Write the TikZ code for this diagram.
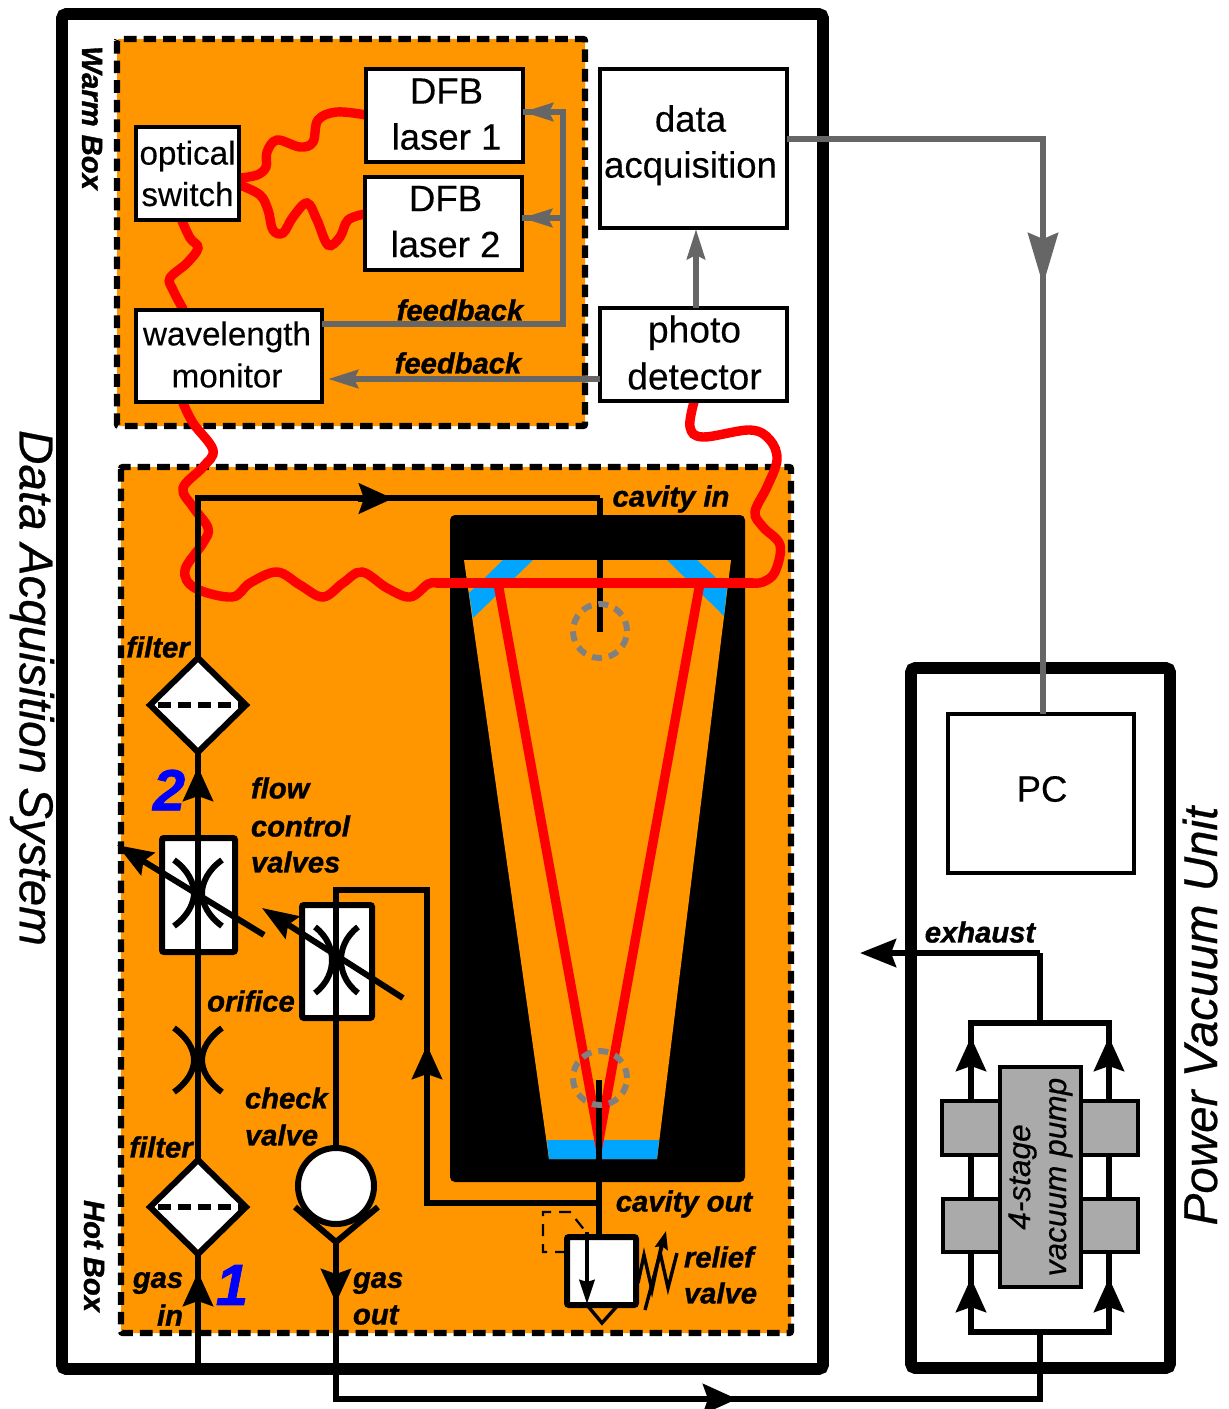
\documentclass[tikz,border=0pt]{standalone}
\usepackage{fontspec}
\setmainfont{Liberation Sans}[FakeBold=0.25,ItalicFeatures={FakeBold=0.5},BoldItalicFeatures={FakeBold=1.2}]
\usetikzlibrary{arrows.meta,shapes.geometric,calc}
\definecolor{boxorange}{RGB}{255,150,0}
\definecolor{mirrorblue}{RGB}{0,165,255}
\definecolor{feedgray}{RGB}{102,102,102}
\definecolor{pumpgray}{RGB}{170,170,170}
\definecolor{ringgray}{RGB}{128,128,128}
\newcommand\nudge[3]{\hbox to 0pt{\hss\kern#1\raisebox{\dimexpr#2-.25em-6pt\relax}{\smash{\begin{tabular}{@{}c@{}}#3\end{tabular}}}\kern-#1\hss}}
\tikzset{
  x=.5pt,y=-.5pt,
  wh/.style 2 args={minimum width=#1*.5pt,minimum height=#2*.5pt},
  plain/.style={inner sep=0pt,outer sep=0pt},
  frame/.style={draw=black,line width=5.8pt,rounded corners=2pt},
  warmzone/.style={fill=boxorange,draw=black,line width=3.2pt,dash pattern=on 6.3pt off 3.5pt,rounded corners=1pt},
  blockbig/.style={plain,rectangle,draw=black,fill=white,line width=1.7pt,font=\fontsize{18.3}{23}\selectfont},
  blocksmall/.style={plain,rectangle,draw=black,fill=white,line width=1.7pt,font=\fontsize{16.6}{20.7}\selectfont},
  valvebox/.style={plain,rectangle,draw=black,fill=white,line width=3pt,rounded corners=1pt},
  pumpblock/.style={plain,rectangle,draw=black,fill=pumpgray,line width=1.7pt},
  pipe/.style={draw=black,line width=3pt},
  thinpipe/.style={draw=black,line width=1.7pt},
  fiber/.style={draw=red,line width=4.7pt,line cap=round},
  gline/.style={draw=feedgray,line width=3pt},
  bigtip/.style={pipe,-{Stealth[length=17pt,width=15pt,inset=2.5pt]}},
  smalltip/.style={thinpipe,-{Stealth[length=9pt,width=6.5pt,inset=1.2pt]}},
  valvetip/.style={pipe,-{Stealth[length=18pt,width=13pt,inset=2.5pt]}},
  ftip/.style={gline,-{Stealth[length=15pt,width=9pt,inset=2pt]}},
  pctip/.style={gline,-{Stealth[length=26pt,width=15pt,inset=3pt]}},
  ring/.style={draw=ringgray,line width=3pt,dash pattern=on 5pt off 3.5pt},
  lab/.style={plain,font=\fontsize{14.6}{18}\selectfont\bfseries\itshape},
  bignum/.style={plain,text=blue,font=\fontsize{29}{30}\selectfont\bfseries\itshape},
  title/.style={plain,font=\fontsize{23.8}{28}\selectfont\itshape},
  filterd/.style={plain,diamond,aspect=1,draw=black,fill=white,line width=3pt,wh={96}{94}},
}
\begin{document}
\begin{tikzpicture}
\useasboundingbox[fill=white] (0,0) rectangle (1228,1409);
% frames
\draw[frame] (62,14) rectangle (823,1369);
\draw[frame] (911,668) rectangle (1170,1368);
\draw[warmzone] (117,39) rectangle (585,426);
\draw[warmzone] (121,467) rectangle (791,1333);
% cavity
\node[plain,rectangle,fill=black,rounded corners=2.5pt,wh={295}{667}] (cavity) at (597.5,848.5) {};
\fill[boxorange] (464,560) -- (731,560) -- (657,1159) -- (549,1159) -- cycle;
\fill[mirrorblue] (503,560) -- (533,560) -- (473,618) -- (469,593) -- cycle;
\fill[mirrorblue] (667,560) -- (697,560) -- (727,588) -- (724,616) -- cycle;
\fill[mirrorblue] (547,1140) -- (659,1140) -- (657,1159) -- (549,1159) -- cycle;
% named points
\coordinate (swS) at (182,221);
\coordinate (wmN) at (183,309);
\coordinate (wmS) at (183,403);
\coordinate (swE1) at (240,178);
\coordinate (swE2) at (240,185);
\coordinate (d1W) at (366,115);
\coordinate (d2W) at (365,214);
\coordinate (f1) at (437,583);
\coordinate (f2) at (752,583);
\coordinate (phS) at (694,402);
% fibres in the warm box
\draw[fiber] plot[smooth,tension=.6] coordinates {(swS) (190,238) (198,248) (187,263) (170,278) (173,290) (wmN)};
\draw[fiber] plot[smooth,tension=.6] coordinates {(swE1) (257,175) (266,167) (267,152) (277,140) (300,147) (313,142) (318,120) (337,112) (d1W)};
\draw[fiber] plot[smooth,tension=.6] coordinates {(swE2) (260,195) (268,210) (273,230) (283,233) (293,217) (307,203) (317,220) (328,245) (340,237) (348,220) (d2W)};
% cavity-in stub lies under the beam
\coordinate (ciT) at (600,498);
\coordinate (ciB) at (600,632);
\draw[pipe] (ciT) -- (ciB);
% beams and long fibre
\coordinate (bL) at (498,583);
\coordinate (bR) at (700,583);
\coordinate (bB) at (599,1140);
\draw[fiber,line join=miter,line cap=butt] (bL) -- (bB) -- (bR);
\draw[fiber] plot[smooth,tension=.6] coordinates {(wmS) (193,423) (213,450) (203,467) (183,488) (193,507) (208,528) (203,543) (185,570) (195,588) (232,597) (250,583) (277,572) (300,585) (323,597) (343,583) (362,572) (387,588) (410,597) (428,584) (f1)};
\draw[fiber] (f1) -- (f2);
\draw[fiber] plot[smooth,tension=.6] coordinates {(f2) (763,582) (775,572) (780,545) (763,527) (755,512) (767,487) (777,460) (770,440) (750,430) (703,437) (690,427) (phS)};
% nodes
\node[blocksmall,wh={103}{93}] (switch) at (187.5,173.5) {\nudge{0pt}{-2pt}{optical\\switch}};
\node[blockbig,wh={157}{93}] (dfb1) at (444.5,115.5) {\nudge{1pt}{0pt}{DFB\\laser 1}};
\node[blockbig,wh={157}{93}] (dfb2) at (443.5,223.5) {\nudge{1pt}{0.5pt}{DFB\\laser 2}};
\node[blocksmall,font=\fontsize{16.6}{21}\selectfont,wh={186}{92}] (wm) at (229,356) {\nudge{-1pt}{-0.5pt}{wavelength\\monitor}};
\node[blockbig,wh={187}{159}] (daq) at (693.5,148.5) {\nudge{-1.5pt}{5pt}{data\\acquisition}};
\node[blockbig,font=\fontsize{18.6}{23.5}\selectfont,wh={187}{93}] (photo) at (693.5,354.5) {\nudge{0.5pt}{0pt}{photo\\detector}};
\node[blockbig,wh={186}{159}] (pc) at (1041,793.5) {\nudge{0.5pt}{3pt}{PC}};
% gray signal lines
\coordinate (fbCorner) at (563,324);
\coordinate (fbTop) at (563,112);
\coordinate (fbMid) at (563,218);
\draw[gline] (wm.east |- fbCorner) -- (fbCorner) -- (fbTop) -- (dfb1.east |- fbTop);
\draw[gline] (fbMid) -- (dfb2.east |- fbMid);
\coordinate (a1b) at (555,112);
\coordinate (a1t) at (523,112);
\coordinate (a2b) at (555,218);
\coordinate (a2t) at (522,218);
\draw[ftip] (a1b) -- (a1t);
\draw[ftip] (a2b) -- (a2t);
\coordinate (pfb) at (600,379);
\coordinate (pft) at (328,379);
\draw[ftip] (pfb) -- (pft);
\coordinate (daqS) at (696,229);
\coordinate (phN) at (696,308);
\draw[ftip] (phN) -- (daqS);
\coordinate (daqE) at (787,139);
\coordinate (pcC) at (1043,139);
\coordinate (pcN) at (1043,714);
\draw[gline] (daqE) -- (pcC) -- (pcN);
\coordinate (pcAb) at (1043,232);
\coordinate (pcAt) at (1043,285);
\draw[pctip] (pcAb) -- (pcAt);
% gas line 1
\coordinate (gasstart) at (198,1368);
\coordinate (gc1) at (198,498);
\node[filterd] (filterA) at (198,1207) {};
\node[filterd] (filterB) at (198,705) {};
\draw[pipe] (gasstart) -- (filterA.south);
\draw[pipe] (filterA.north) -- (filterB.south);
\draw[pipe] (filterB.north) -- (gc1) -- (ciT);
\draw[pipe,dash pattern=on 6.5pt off 3.5pt] (filterA.west) ++(8,0) -- (filterA.east);
\draw[pipe,dash pattern=on 6.5pt off 3.5pt] (filterB.west) ++(8,0) -- (filterB.east);
\coordinate (a3b) at (358,498.5);
\coordinate (a3t) at (393,498.5);
\draw[bigtip] (a3b) -- (a3t);
\coordinate (a4b) at (198,803);
\coordinate (a4t) at (198,767);
\draw[bigtip] (a4b) -- (a4t);
\coordinate (a5b) at (198,1306);
\coordinate (a5t) at (198,1272);
\draw[bigtip] (a5b) -- (a5t);
% valve 1
\node[valvebox,wh={73}{114}] (valveA) at (198.5,895) {};
\coordinate (vAs) at (198,952);
\coordinate (vAn) at (198,838);
\draw[pipe] (vAs) -- (vAn);
\draw[pipe] (174,860) .. controls (188,870) and (194,883) .. (194,893) .. controls (194,903) and (188,916) .. (174,926);
\draw[pipe] (222,860) .. controls (208,870) and (202,883) .. (202,893) .. controls (202,903) and (208,916) .. (222,926);
\coordinate (vAarrB) at (264,935);
\coordinate (vAarrT) at (117,845);
\draw[valvetip] (vAarrB) -- (vAarrT);
% orifice
\draw[pipe] (174,1028) .. controls (188,1038) and (194,1050) .. (194,1060) .. controls (194,1070) and (188,1082) .. (174,1092);
\draw[pipe] (222,1028) .. controls (208,1038) and (202,1050) .. (202,1060) .. controls (202,1070) and (208,1082) .. (222,1092);
% valve 2 and check valve
\node[valvebox,wh={70}{113}] (valveB) at (337,961.5) {};
\node[plain,circle,draw=black,fill=white,line width=3pt,wh={76}{76}] (check) at (336,1186) {};
\coordinate (cvTip) at (336,1242);
\coordinate (cvL) at (295,1207);
\coordinate (cvR) at (378,1207);
\draw[draw=black,line width=3pt] (cvL) -- (cvTip) -- (cvR);
\coordinate (p2T) at (336,890);
\coordinate (p2C) at (427,890);
\coordinate (p2D) at (427,1203);
\coordinate (p2J) at (599,1203);
\draw[pipe] (check.north) -- (p2T) -- (p2C) -- (p2D) -- (p2J);
\draw[pipe] (315,927) .. controls (328,937) and (332,950) .. (332,960) .. controls (332,970) and (328,983) .. (315,993);
\draw[pipe] (358,927) .. controls (345,937) and (341,950) .. (341,960) .. controls (341,970) and (345,983) .. (358,993);
\coordinate (vBarrB) at (403,998);
\coordinate (vBarrT) at (262,908);
\draw[valvetip] (vBarrB) -- (vBarrT);
\coordinate (a6b) at (427,1081);
\coordinate (a6t) at (427,1045);
\draw[bigtip] (a6b) -- (a6t);
% outlet
\coordinate (gasB) at (336,1399);
\coordinate (gasE) at (1040,1399);
\coordinate (pumpBot) at (1040,1332);
\draw[pipe] (cvTip) -- (gasB) -- (gasE) -- (pumpBot);
\coordinate (a7b) at (336,1271);
\coordinate (a7t) at (336,1303);
\draw[bigtip] (a7b) -- (a7t);
\coordinate (a8b) at (700,1399);
\coordinate (a8t) at (737,1399);
\draw[bigtip] (a8b) -- (a8t);
% relief valve
\coordinate (cavOutT) at (599,1080);
\coordinate (cavOutB) at (599,1237);
\draw[pipe] (cavOutT) -- (cavOutB);
\node[valvebox,line width=3pt,wh={69}{68}] (relief) at (601.5,1271) {};
\coordinate (rA) at (587,1232);
\coordinate (rB) at (587,1304);
\draw[thinpipe,line width=2.2pt,-{Stealth[length=12pt,width=7.5pt,inset=1pt]}] (rA) -- (rB);
\coordinate (rTl) at (587,1305);
\coordinate (rTm) at (602,1323);
\coordinate (rTr) at (618,1305);
\draw[thinpipe] (rTl) -- (rTm) -- (rTr);
\coordinate (rDa) at (567,1252);
\coordinate (rDb) at (543,1252);
\coordinate (rDc) at (543,1212);
\coordinate (rDd) at (570,1212);
\coordinate (rDe) at (590,1237);
\draw[draw=black,line width=1.1pt,dash pattern=on 6pt off 4pt] (rDa) -- (rDb) -- (rDc) -- (rDd) -- (rDe);
\draw[thinpipe] (638,1283) -- (644,1255) -- (652,1290) -- (660,1252) -- (668,1288) -- (677,1253);
\coordinate (sA) at (645,1310);
\coordinate (sB) at (666,1231);
\draw[smalltip] (sA) -- (sB);
% rings
\node[plain,circle,ring,wh={54}{54}] (ringA) at (600,631) {};
\node[plain,circle,ring,wh={54}{54}] (ringB) at (600,1078) {};
% pump
\coordinate (plT) at (971,1023);
\coordinate (prT) at (1109,1023);
\coordinate (plB) at (971,1332);
\coordinate (prB) at (1109,1332);
\coordinate (exJ) at (1040,1023);
\coordinate (exC) at (1040,953);
\coordinate (exT) at (860,953);
\draw[pipe] (plB) -- (prB) -- (prT) -- (plT) -- cycle;
\draw[pipe] (exJ) -- (exC);
\draw[pipe,-{Stealth[length=18pt,width=14pt,inset=2.5pt]}] (exC) -- (exT);
\draw[bigtip] (971,1069) -- (971,1037);
\draw[bigtip] (1109,1069) -- (1109,1037);
\draw[bigtip] (971,1309) -- (971,1278);
\draw[bigtip] (1109,1309) -- (1109,1278);
\node[pumpblock,wh={58}{54}] (bA) at (971,1128) {};
\node[pumpblock,wh={58}{54}] (bB) at (1109,1128) {};
\node[pumpblock,wh={57}{53}] (bC) at (971.5,1225.5) {};
\node[pumpblock,wh={58}{53}] (bD) at (1109,1225.5) {};
\node[plain,rectangle,draw=black,fill=pumpgray,line width=1.7pt,rotate=90,wh={220}{81},align=center,font=\fontsize{15.8}{18}\selectfont\itshape] (pump) at (1040.5,1177) {4-stage\\vacuum pump};
% labels
\node[lab] (tfb1) at (460,310) {feedback};
\node[lab] (tfb2) at (458,363) {feedback};
\node[lab] (tci) at (671,499) {cavity in};
\node[lab] (tco) at (684,1204) {cavity out};
\node[lab] (tf1) at (158,647) {filter};
\node[lab] (tf2) at (161,1147) {filter};
\node[lab,anchor=west] (tfc1) at (251,788) {flow};
\node[lab,anchor=west] (tfc2) at (251,826) {control};
\node[lab,anchor=west] (tfc3) at (251,862) {valves};
\node[lab] (tor) at (251,1001) {orifice};
\node[lab,anchor=west] (tcv1) at (245,1098) {check};
\node[lab,anchor=west] (tcv2) at (245,1135) {valve};
\node[lab] (tgi1) at (158,1283) {gas};
\node[lab,anchor=east] (tgi2) at (183,1315) {in};
\node[lab,anchor=west] (tgo1) at (353,1283) {gas};
\node[lab,anchor=west] (tgo2) at (353,1315) {out};
\node[lab,anchor=west] (trv1) at (684,1257) {relief};
\node[lab,anchor=west] (trv2) at (684,1293) {valve};
\node[lab] (tex) at (980,932) {exhaust};
\node[lab,rotate=-90] (twb) at (92,118) {Warm Box};
\node[lab,rotate=-90] (thb) at (94,1256) {Hot Box};
\node[bignum] (n1) at (232,1285) {1};
\node[bignum] (n2) at (169,790) {2};
\node[title,rotate=-90] (tdas) at (32,688) {Data Acquisition System};
\node[title,rotate=90] (tpvu) at (1200,1016) {Power Vacuum Unit};
\end{tikzpicture}
\end{document}
